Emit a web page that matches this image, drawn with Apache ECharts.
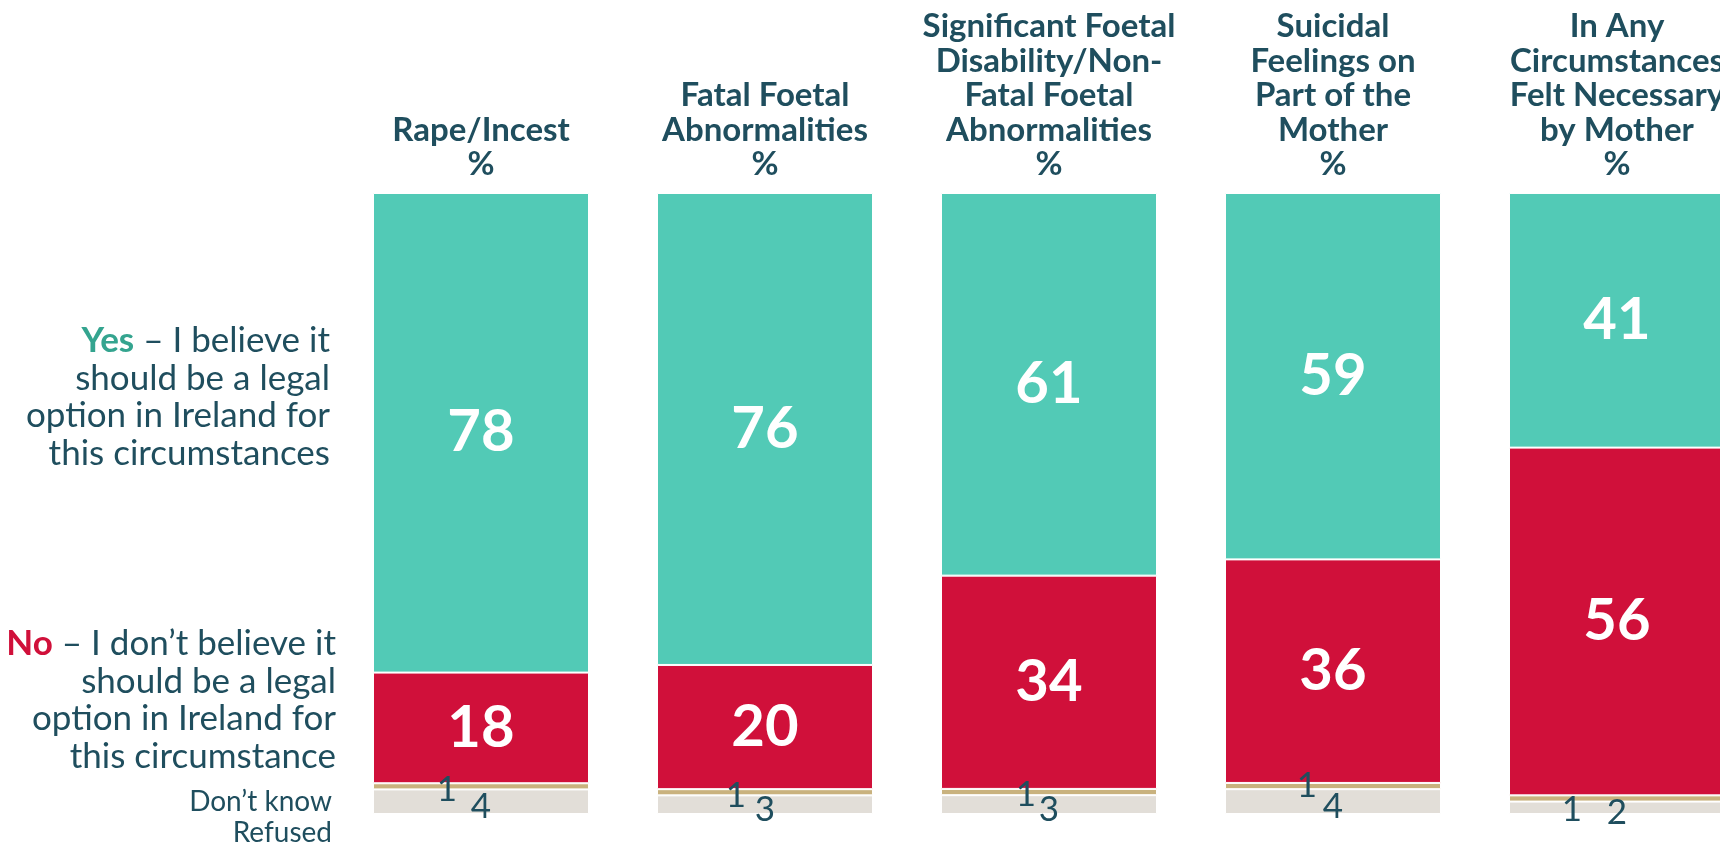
<!DOCTYPE html>
<html>
<head>
<meta charset="utf-8">
<script src="https://cdn.jsdelivr.net/npm/echarts@6/dist/echarts.min.js"></script>
<style>
  html, body { margin: 0; padding: 0; background: #fff; }
  #chart { width: 1720px; height: 842px; }
</style>
</head>
<body>
<div id="chart"></div>
<script>
// data
const categories = [
  "Rape/Incest\n%",
  "Fatal Foetal\nAbnormalities\n%",
  "Significant Foetal\nDisability/Non-\nFatal Foetal\nAbnormalities\n%",
  "Suicidal\nFeelings on\nPart of the\nMother\n%",
  "In Any\nCircumstances\nFelt Necessary\nby Mother\n%"
];
const yesValues = [78, 76, 61, 59, 41];
const noValues = [18, 20, 34, 36, 56];
const dontKnowValues = [1, 1, 1, 1, 1];
const refusedValues = [4, 3, 3, 4, 2];

// small label nudges for the "don't know" numbers (style only)
const dkOffsets = [[-34, 3], [-29, 3], [-23, 3], [-26, 0], [-45, 11]];

const TEXT = "#1F4E5E";
const FONT = "Lato";

// bars are drawn as 100% stacks, labels keep the raw numbers
const totals = yesValues.map((v, i) => v + noValues[i] + dontKnowValues[i] + refusedValues[i]);
const share = (arr) => arr.map((v, i) => ({ value: v / totals[i] * 100, raw: v }));

const chart = echarts.init(document.getElementById("chart"));

const segment = (name, arr, color, label) => ({
  name,
  type: "bar",
  stack: "all",
  barWidth: 216,
  data: share(arr),
  itemStyle: { color, borderColor: "#fff", borderWidth: 1 },
  label: Object.assign({ show: true, formatter: (p) => p.data.raw }, label),
  emphasis: { disabled: true }
});

const refused = segment("Refused", refusedValues, "#E2DED8", {
  position: "inside", color: TEXT, fontFamily: FONT, fontSize: 35, offset: [0, 5]
});
const dontKnow = segment("Don't know", dontKnowValues, "#C9B27E", {
  position: "inside", color: TEXT, fontFamily: FONT, fontSize: 35
});
dontKnow.data.forEach((d, i) => {
  d.label = { offset: dkOffsets[i] };
});
const no = segment("No", noValues, "#D0103A", {
  position: "inside", color: "#fff", fontFamily: FONT, fontWeight: "bold", fontSize: 58
});
const yes = segment("Yes", yesValues, "#52CAB6", {
  position: "inside", color: "#fff", fontFamily: FONT, fontWeight: "bold", fontSize: 58
});

const option = {
  animation: false,
  grid: { left: 339, right: -39, top: 193, bottom: 28, containLabel: false, outerBoundsMode: "none" },
  xAxis: {
    type: "category",
    position: "top",
    data: categories,
    axisLine: { show: false },
    axisTick: { show: false },
    axisLabel: {
      interval: 0,
      margin: 11,
      color: TEXT,
      fontFamily: FONT,
      fontWeight: "bold",
      fontSize: 33,
      lineHeight: 34.5,
      align: "center"
    }
  },
  yAxis: { type: "value", min: 0, max: 100, show: false },
  series: [refused, dontKnow, no, yes],
  graphic: [
    {
      type: "text",
      x: 330, y: 397,
      style: {
        text: "{y|Yes}{t| – I believe it}\n{t|should be a legal}\n{t|option in Ireland for}\n{t|this circumstances}",
        align: "right",
        verticalAlign: "middle",
        rich: {
          y: { fill: "#34A48F", fontFamily: FONT, fontWeight: "bold", fontSize: 35, lineHeight: 37.5 },
          t: { fill: TEXT, fontFamily: FONT, fontSize: 35, lineHeight: 37.5 }
        }
      }
    },
    {
      type: "text",
      x: 336, y: 700,
      style: {
        text: "{n|No}{t| – I don’t believe it}\n{t|should be a legal}\n{t|option in Ireland for}\n{t|this circumstance}",
        align: "right",
        verticalAlign: "middle",
        rich: {
          n: { fill: "#D0103A", fontFamily: FONT, fontWeight: "bold", fontSize: 35, lineHeight: 37.5 },
          t: { fill: TEXT, fontFamily: FONT, fontSize: 35, lineHeight: 37.5 }
        }
      }
    },
    {
      type: "text",
      x: 332, y: 817,
      style: {
        text: "Don’t know\nRefused",
        align: "right",
        verticalAlign: "middle",
        fill: TEXT,
        fontFamily: FONT,
        fontSize: 28,
        lineHeight: 31
      }
    }
  ]
};

chart.setOption(option);
</script>
</body>
</html>
